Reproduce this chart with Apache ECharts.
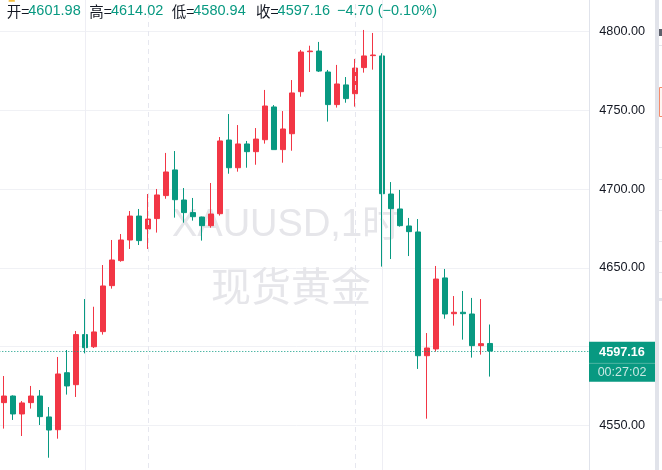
<!DOCTYPE html>
<html>
<head>
<meta charset="utf-8">
<script src="https://cdn.jsdelivr.net/npm/echarts@6/dist/echarts.min.js"></script>
<style>
html,body{margin:0;padding:0;background:#ffffff;}
#c{width:662px;height:470px;}
</style>
</head>
<body>
<div id="c"></div>
<script>
// ---- data ----
const categories = [
  '01-26 16:00','01-26 17:00','01-26 18:00','01-26 19:00','01-26 20:00','01-26 21:00','01-26 22:00','01-26 23:00',
  '01-27 00:00','01-27 01:00','01-27 02:00','01-27 03:00','01-27 04:00','01-27 05:00','01-27 06:00','01-27 07:00',
  '01-27 08:00','01-27 09:00','01-27 10:00','01-27 11:00','01-27 12:00','01-27 13:00','01-27 14:00','01-27 15:00',
  '01-27 16:00','01-27 17:00','01-27 18:00','01-27 19:00','01-27 20:00','01-27 21:00','01-27 22:00','01-27 23:00',
  '01-28 00:00','01-28 01:00','01-28 02:00','01-28 03:00','01-28 04:00','01-28 05:00','01-28 06:00','01-28 07:00',
  '01-28 08:00','01-28 09:00','01-28 10:00','01-28 11:00','01-28 12:00','01-28 13:00','01-28 14:00','01-28 15:00',
  '01-28 16:00','01-28 17:00','01-28 18:00','01-28 19:00','01-28 20:00','01-28 21:00','01-28 22:00','01-28 23:00',
  '01-29 00:00','01-29 01:00','01-29 02:00','01-29 03:00','01-29 04:00','01-29 05:00','01-29 06:00','01-29 07:00',
  '01-29 08:00','01-29 09:00'
];
const opens = [
  4564.4, 4568.6, 4557.2, 4564.4, 4568.6, 4555.3, 4547.2, 4583.4, 4575.8, 4607.6,
  4599.9, 4609.5, 4638.7, 4654.6, 4667.7, 4682.9, 4674.7, 4681.3, 4695.9, 4712.2,
  4693.1, 4685.1, 4682.3, 4676.8, 4684.4, 4731.2, 4713.6, 4728.7, 4723.8, 4731.4,
  4752.2, 4725.1, 4735.2, 4761.9, 4787.3, 4787.7, 4774.4, 4753.7, 4766.2, 4760.6,
  4777.2, 4784.8, 4784.6, 4696.9, 4687.4, 4676.6, 4672.8, 4594.2, 4598.5, 4643.6,
  4620.9, 4621.8, 4620.7, 4600.6, 4601.98
];
const closes = [
  4568.6, 4557.2, 4564.2, 4568.6, 4555.5, 4547.0, 4582.6, 4575.0, 4607.6, 4599.3,
  4609.3, 4638.5, 4655.0, 4667.7, 4682.9, 4667.3, 4681.0, 4696.3, 4710.9, 4693.3,
  4685.1, 4682.5, 4676.8, 4684.2, 4730.6, 4713.6, 4728.7, 4723.8, 4731.8, 4752.8,
  4725.1, 4738.2, 4761.1, 4787.1, 4787.7, 4775.0, 4753.7, 4766.8, 4757.5, 4776.9,
  4784.6, 4785.2, 4697.1, 4687.6, 4676.8, 4673.0, 4594.2, 4599.1, 4642.9, 4620.7,
  4621.8, 4620.9, 4600.6, 4601.86, 4597.16
];
const lows = [
  4547.9, 4553.4, 4543.2, 4560.6, 4550.2, 4529.4, 4541.5, 4569.5, 4568.0, 4595.7,
  4599.1, 4607.6, 4636.8, 4653.9, 4662.0, 4664.5, 4662.0, 4672.4, 4693.9, 4681.9,
  4678.7, 4680.0, 4667.3, 4675.5, 4683.2, 4709.8, 4711.1, 4713.6, 4715.5, 4728.9,
  4725.1, 4716.8, 4724.4, 4758.7, 4774.4, 4774.4, 4742.9, 4751.8, 4754.9, 4752.4,
  4774.0, 4775.9, 4650.8, 4655.6, 4676.2, 4657.5, 4585.8, 4554.2, 4596.8, 4617.7,
  4613.3, 4604.4, 4593.0, 4594.9, 4580.94
];
const highs = [
  4581.3, 4569.0, 4565.4, 4575.0, 4572.4, 4561.6, 4593.4, 4597.8, 4609.9, 4630.2,
  4625.3, 4651.8, 4667.7, 4671.5, 4686.1, 4687.4, 4696.9, 4700.1, 4723.0, 4724.2,
  4700.7, 4694.4, 4682.5, 4703.9, 4733.1, 4747.7, 4740.7, 4730.6, 4738.8, 4763.0,
  4753.4, 4749.6, 4769.3, 4788.4, 4791.1, 4793.5, 4775.7, 4778.9, 4771.2, 4782.7,
  4801.1, 4799.2, 4786.3, 4704.5, 4699.5, 4681.7, 4681.0, 4608.6, 4651.2, 4649.3,
  4632.1, 4635.3, 4630.9, 4630.2, 4614.02
];
const yMin = 4500, yMax = 4850, yStep = 50;
const hiddenTickLabels = [4600];
const solidDividers = ['01-27 01:00', '01-28 10:00'];
const dashedDividers = ['01-27 08:00', '01-28 07:00'];
const headerLabels = ['开', '高', '低', '收'];
const watermarkLines = ['XAUUSD,1时', '现货黄金'];
const countdownText = '00:27:02';

// ---- styles ----
const UP = '#f23645', DOWN = '#089981';
const FONT = '"Liberation Sans", Arial, "Noto Sans CJK SC", sans-serif';
const CJK = '"Noto Sans CJK SC", "Liberation Sans", sans-serif';

const candleData = opens.map((o, i) => [o, closes[i], lows[i], highs[i]]);
const n = opens.length;
const lastClose = closes[n - 1];
const prevClose = closes[n - 2];

const chart = echarts.init(document.getElementById('c'), null, {renderer: 'canvas'});

const dividerData = solidDividers.map(c => ({xAxis: c, lineStyle: {type: 'solid', color: '#eeeef4', width: 1}}))
  .concat(dashedDividers.map(c => ({xAxis: c, lineStyle: {type: [5, 4], color: '#e6e7ef', width: 1}})));

chart.setOption({
  animation: false,
  backgroundColor: '#ffffff',
  grid: {left: -0.7, top: -47.02, width: 594, height: 551.04, containLabel: false, outerBoundsMode: 'none'},
  xAxis: {type: 'category', data: categories, boundaryGap: true, show: false},
  yAxis: {
    type: 'value', position: 'right', min: yMin, max: yMax, interval: yStep, offset: -4,
    axisLine: {show: false}, axisTick: {show: false},
    splitLine: {show: true, lineStyle: {color: '#f0f1f5', width: 1}},
    axisLabel: {
      margin: 10, color: '#131722', fontSize: 12.7, fontFamily: FONT,
      formatter: v => hiddenTickLabels.includes(v) ? '' : v.toFixed(2)
    }
  },
  series: [
    {
      type: 'line', data: [], z: 1, silent: true,
      markLine: {symbol: ['none', 'none'], silent: true, label: {show: false}, animation: false, data: dividerData}
    },
    {
      type: 'candlestick', data: candleData, barWidth: 5, z: 2,
      itemStyle: {color: UP, color0: DOWN, borderColor: UP, borderColor0: DOWN, borderWidth: 1},
      markLine: {
        symbol: ['none', 'none'], silent: true, label: {show: false}, animation: false,
        lineStyle: {color: DOWN, type: [1, 2], width: 1},
        data: [{yAxis: lastClose}]
      }
    }
  ]
});

const py = chart.convertToPixel({yAxisIndex: 0}, lastClose);
const fmt = v => v.toFixed(2);
const minus = s => s.replace('-', '\u2212');
const chg = lastClose - prevClose;
const pct = chg / prevClose * 100;
const headerVals = [opens[n - 1], highs[n - 1], lows[n - 1], lastClose];
const headerX = [6.7, 89.3, 171.7, 256];

const g = [];
// watermark
g.push({type: 'text', z: 0, silent: true, style: {text: watermarkLines[0], x: 286, y: 226, fill: '#e6e6ea', font: '38px ' + FONT, textAlign: 'center', textVerticalAlign: 'middle'}});
g.push({type: 'text', z: 0, silent: true, style: {text: watermarkLines[1], x: 291, y: 286, fill: '#e6e6ea', font: '40px ' + CJK, textAlign: 'center', textVerticalAlign: 'middle'}});
// cover gridline overhang & axis line
g.push({type: 'rect', z: 50, silent: true, shape: {x: 590, y: 0, width: 4, height: 470}, style: {fill: '#ffffff'}});
g.push({type: 'line', z: 51, silent: true, shape: {x1: 589.5, y1: 0, x2: 589.5, y2: 470}, style: {stroke: '#e0e3eb', lineWidth: 1}});
// right sidebar
g.push({type: 'rect', z: 51, silent: true, shape: {x: 655, y: 0, width: 4, height: 470}, style: {fill: '#e1e3ea'}});
g.push({type: 'rect', z: 51, silent: true, shape: {x: 659, y: 29, width: 4, height: 7}, style: {fill: '#5d606b'}});
g.push({type: 'line', z: 51, silent: true, shape: {x1: 659, y1: 45.5, x2: 662, y2: 45.5}, style: {stroke: '#e6e7ec', lineWidth: 1}});
g.push({type: 'rect', z: 51, silent: true, shape: {x: 659.5, y: 87.5, width: 4, height: 29}, style: {fill: '#fff6f3', stroke: '#f58b6a', lineWidth: 1}});
[147, 179, 210, 241, 272].forEach(yy => g.push({type: 'line', z: 51, silent: true, shape: {x1: 659, y1: yy + 0.5, x2: 662, y2: yy + 0.5}, style: {stroke: '#e6e7ec', lineWidth: 1}}));
g.push({type: 'rect', z: 51, silent: true, shape: {x: 659, y: 298, width: 3, height: 3}, style: {fill: '#e1e3ea'}});
// top-left icon fragment
g.push({type: 'rect', z: 60, silent: true, shape: {x: 8.5, y: 0, width: 6.5, height: 1.8, r: 1}, style: {fill: '#f5bf3f'}});
// header text
headerLabels.forEach((lab, i) => {
  g.push({type: 'text', z: 60, silent: true, style: {text: lab + '=', x: headerX[i], y: 11, fill: '#131722', font: '14.5px ' + CJK, textAlign: 'left', textVerticalAlign: 'middle'}});
  g.push({type: 'text', z: 60, silent: true, style: {text: fmt(headerVals[i]), x: headerX[i] + 21.6, y: 11, fill: DOWN, font: '14.5px ' + FONT, textAlign: 'left', textVerticalAlign: 'middle'}});
});
g.push({type: 'text', z: 60, silent: true, style: {text: minus(fmt(chg)) + ' (' + minus(fmt(pct)) + '%)', x: 337, y: 11, fill: chg < 0 ? DOWN : UP, font: '14.5px ' + FONT, textAlign: 'left', textVerticalAlign: 'middle'}});
// current price box
g.push({type: 'rect', z: 60, silent: true, shape: {x: 589, y: py - 9.3, width: 66, height: 40}, style: {fill: DOWN}});
g.push({type: 'line', z: 61, silent: true, shape: {x1: 589, y1: py + 12.3, x2: 655, y2: py + 12.3}, style: {stroke: '#4fb5a2', lineWidth: 1}});
g.push({type: 'text', z: 62, silent: true, style: {text: fmt(lastClose), x: 622, y: py + 1.4, fill: '#ffffff', font: 'bold 12.7px ' + FONT, textAlign: 'center', textVerticalAlign: 'middle'}});
g.push({type: 'text', z: 62, silent: true, style: {text: countdownText, x: 622, y: py + 21.7, fill: 'rgba(255,255,255,0.78)', font: '12.5px ' + FONT, textAlign: 'center', textVerticalAlign: 'middle'}});

chart.setOption({graphic: g});
</script>
</body>
</html>
